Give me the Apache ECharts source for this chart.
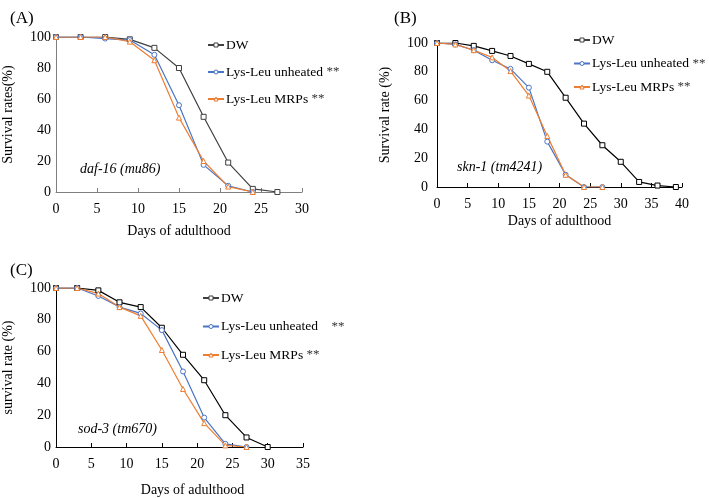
<!DOCTYPE html>
<html>
<head>
<meta charset="utf-8">
<script src="https://cdn.jsdelivr.net/npm/echarts@6/dist/echarts.min.js"></script>
<style>
  html, body { margin: 0; padding: 0; background: #fff; }
  #main { width: 709px; height: 498px; }
</style>
</head>
<body>
<div id="main"></div>
<script>
// 三个面板的数据：存活率(%) 对应成虫天数
const daysA = [0, 3, 6, 9, 12, 15, 18, 21, 24, 27];
const dwA = [100, 100, 100, 98.5, 93, 80, 48.5, 19, 2, 0];
const unheatedA = [100, 100, 99, 98, 88.5, 56, 17.5, 4, 0];
const mrpsA = [100, 100, 100, 97, 85, 48, 20, 3.5, 0];

const daysB = [0, 3, 6, 9, 12, 15, 18, 21, 24, 27, 30, 33, 36, 39];
const dwB = [100, 100, 98, 94.5, 91, 85.5, 80, 62, 44, 29, 17.5, 3.5, 1, 0];
const unheatedB = [100, 99, 95, 88, 82, 69, 31.5, 8.5, 0, 0];
const mrpsB = [100, 99, 95, 90, 80.5, 63.5, 35.5, 8.5, 0, 0];

const daysC = [0, 3, 6, 9, 12, 15, 18, 21, 24, 27, 30];
const dwC = [100, 100, 98.5, 91, 88, 75, 58, 42, 20, 6, 0];
const unheatedC = [100, 100, 95, 88, 84, 73.5, 47.5, 18.5, 2, 0];
const mrpsC = [100, 100, 96.5, 88, 82.5, 61, 36.5, 15, 1, 0];

const xMax = [30, 40, 35];
const yLabels = ['Survival rates(%)', 'Survival rate (%)', 'survival rate (%)'];
const strains = ['daf-16 (mu86)', 'skn-1 (tm4241)', 'sod-3 (tm670)'];
const panelTags = ['(A)', '(B)', '(C)'];

const FONT = '"Liberation Serif", "Times New Roman", serif';
const BLUE = '#4a74c4';
const ORANGE = '#ed7d31';

const pairs = (xs, ys) => ys.map((v, i) => [xs[i], v]);

const chart = echarts.init(document.getElementById('main'));

function axisColor(i) {
  return i === 0 ? '#7f7f7f' : '#000';
}

const grids = [
  {left: 55, top: 37, width: 247, height: 155},
  {left: 437, top: 43, width: 245, height: 144},
  {left: 55, top: 288, width: 248, height: 166}
];

const xNameGap = [32, 27, 36];

const xAxes = xMax.map((m, i) => ({
  type: 'value',
  gridIndex: i,
  min: 0,
  max: m,
  interval: 5,
  name: 'Days of adulthood',
  nameLocation: 'middle',
  nameGap: xNameGap[i],
  nameTextStyle: {fontFamily: FONT, fontSize: 14, color: '#000', padding: i === 2 ? [0, 0, 0, 26] : 0},
  axisLine: {show: true, lineStyle: {color: axisColor(i), width: 1}},
  axisTick: {show: true, inside: true, length: 4, lineStyle: {color: axisColor(i)}},
  axisLabel: {fontFamily: FONT, fontSize: 14, color: '#000', margin: 10},
  splitLine: {show: false}
}));

const yAxes = xMax.map((m, i) => ({
  type: 'value',
  gridIndex: i,
  min: 0,
  max: 100,
  interval: 20,
  name: yLabels[i],
  nameLocation: 'middle',
  nameGap: i === 1 ? 45 : 41,
  nameTextStyle: {fontFamily: FONT, fontSize: 14, color: '#000'},
  axisLine: {show: true, lineStyle: {color: axisColor(i), width: 1}},
  axisTick: {show: false},
  axisLabel: {fontFamily: FONT, fontSize: 14, color: '#000', margin: i === 1 ? 9 : 5},
  splitLine: {show: false}
}));

function makeSeries(i, dw, unheated, mrps, days) {
  const dwColor = i === 0 ? '#404040' : '#000';
  return [
    {name: 'DW', type: 'line', xAxisIndex: i, yAxisIndex: i, data: pairs(days, dw),
     symbol: 'rect', symbolSize: 5,
     lineStyle: {color: dwColor, width: 1.2},
     itemStyle: {color: '#fff', borderColor: dwColor, borderWidth: 1}},
    {name: 'Lys-Leu unheated', type: 'line', xAxisIndex: i, yAxisIndex: i, data: pairs(days, unheated),
     symbol: 'circle', symbolSize: 5,
     lineStyle: {color: BLUE, width: 1.2},
     itemStyle: {color: '#fff', borderColor: BLUE, borderWidth: 1}},
    {name: 'Lys-Leu MRPs', type: 'line', xAxisIndex: i, yAxisIndex: i, data: pairs(days, mrps),
     symbol: 'triangle', symbolSize: 5,
     lineStyle: {color: ORANGE, width: 1.2},
     itemStyle: {color: '#fff', borderColor: ORANGE, borderWidth: 1}}
  ];
}

const legendPos = [
  {left: 202, top: 33, itemGap: 13},
  {left: 568, top: 28, itemGap: 9.5},
  {left: 197, top: 286, itemGap: 14.5}
];

const legends = legendPos.map((p, i) => ({
  orient: 'vertical',
  left: p.left,
  top: p.top,
  itemGap: p.itemGap,
  itemWidth: 16,
  itemHeight: 5,
  selectedMode: false,
  itemStyle: {color: '#fff', borderColor: 'inherit', borderWidth: 1},
  data: ['DW', 'Lys-Leu unheated', 'Lys-Leu MRPs'],
  textStyle: {
    fontFamily: FONT, fontSize: 13.5, color: '#000', padding: [0, 0, 0, -3],
    rich: {s: {fontFamily: FONT, fontSize: 13, color: '#333'}}
  },
  formatter: name => {
    if (name === 'DW') return 'DW';
    if (i === 2 && name === 'Lys-Leu unheated') return name + '    {s|**}';
    return name + ' {s|**}';
  }
}));

const titles = [
  {text: panelTags[0], left: 5, top: 5},
  {text: panelTags[1], left: 389, top: 5},
  {text: panelTags[2], left: 5, top: 257}
].map(t => Object.assign(t, {textStyle: {fontFamily: FONT, fontSize: 17, fontWeight: 'normal', color: '#000'}}))
.concat([
  {text: strains[0], left: 75, top: 157},
  {text: strains[1], left: 452, top: 155},
  {text: strains[2], left: 73, top: 417}
].map(t => Object.assign(t, {textStyle: {fontFamily: FONT, fontSize: 14, fontStyle: 'italic', fontWeight: 'normal', color: '#000'}})));

const option = {
  backgroundColor: '#fff',
  animation: false,
  title: titles,
  legend: legends,
  grid: grids,
  xAxis: xAxes,
  yAxis: yAxes,
  series: [].concat(
    makeSeries(0, dwA, unheatedA, mrpsA, daysA),
    makeSeries(1, dwB, unheatedB, mrpsB, daysB),
    makeSeries(2, dwC, unheatedC, mrpsC, daysC)
  )
};

chart.setOption(option);
</script>
</body>
</html>
